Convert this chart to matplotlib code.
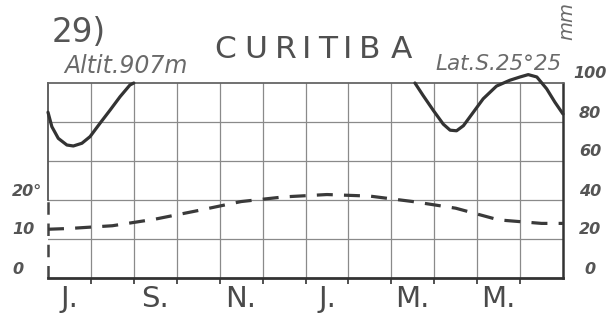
import numpy as np
import matplotlib
matplotlib.use("Agg")
import matplotlib.pyplot as plt
import matplotlib.transforms as mtransforms

# Curitiba climate diagram (year from July to June)
month_labels = ['J.', 'S.', 'N.', 'J.', 'M.', 'M.']
label_pos = [0.5, 2.5, 4.5, 6.5, 8.5, 10.5]

# temperature (deg C): left edge, month centres Jul..Jun, right edge
temp_x = [0, 0.5, 1.5, 2.5, 3.5, 4.5, 5.5, 6.5, 7.5, 8.5, 9.5, 10.5, 11.5, 12]
temp_c = [12.5, 12.7, 13.4, 15.1, 17.3, 19.6, 20.8, 21.4, 21.0, 19.6, 17.9, 14.9, 14.0, 14.0]

# precipitation (mm), only the parts that stay on the sheet
rain1_x = [0.0, 0.09, 0.24, 0.44, 0.59, 0.79, 0.98, 1.21, 1.45, 1.68, 1.91, 2.0]
rain1_mm = [85, 77.6, 71.6, 68.2, 67.7, 69.1, 72.5, 79.3, 86.2, 93, 99, 100]
rain2_x = [8.55, 8.74, 8.98, 9.21, 9.37, 9.52, 9.68, 9.91, 10.14, 10.45, 10.76,
           11.0, 11.19, 11.39, 11.62, 11.81, 12.0]
rain2_mm = [100, 93.6, 85.9, 78.9, 75.8, 75.5, 78.1, 85, 91.9, 98.4, 101.4,
            103.1, 104.3, 103.1, 97, 90.2, 84.1]

mm_ticks = [0, 20, 40, 60, 80, 100]
temp_ticks = [0, 10, 20]
temp_tick_labels = ['0', '10', '20°']

W, H = 611, 320
fig = plt.figure(figsize=(W / 100, H / 100), dpi=100)
ax = fig.add_axes([48 / W, 42 / H, 515 / W, 195 / H])
ax.set_xlim(0, 12)
ax.set_ylim(0, 100)

def px(x, y):
    return x / W, 1 - y / H

# grid
for v in range(1, 12):
    ax.axvline(v, color='#8a8a8a', lw=0.9, zorder=1)
for h in [20, 40, 60, 80]:
    ax.axhline(h, color='#8a8a8a', lw=0.9, zorder=1)

# frame
ax.spines['top'].set_color('#666666')
ax.spines['top'].set_linewidth(1.3)
ax.spines['right'].set_color('#333333')
ax.spines['right'].set_linewidth(1.8)
ax.spines['bottom'].set_color('#333333')
ax.spines['bottom'].set_linewidth(2.0)
ax.spines['left'].set_visible(False)
ax.plot([0, 0], [40, 100], color='#555555', lw=1.3, clip_on=False, zorder=2)
ax.plot([0, 0], [0, 40], color='#444444', lw=1.8, ls=(0, (5, 3.5)),
        clip_on=False, zorder=2)

# temperature (20 deg = 40 mm)
ax.plot(temp_x, np.array(temp_c) * 2, color='#3a3a3a', lw=2.3,
        ls=(0, (5, 3.5)), zorder=3, clip_on=False)

# precipitation
ax.plot(rain1_x, rain1_mm, color='#333333', lw=2.3, zorder=3, clip_on=False,
        solid_capstyle='round')
ax.plot(rain2_x, rain2_mm, color='#333333', lw=2.3, zorder=3, clip_on=False,
        solid_capstyle='round')

# x axis: tick marks at month borders, labels at month centres
ax.set_xticks(range(1, 12))
ax.set_xticklabels([])
ax.tick_params(axis='x', which='major', direction='out', length=4,
               width=1.2, color='#333333')
ax.set_xticks(label_pos, minor=True)
ax.set_xticklabels(month_labels, minor=True, fontsize=21, color='#4a4a4a')
ax.tick_params(axis='x', which='minor', length=0, pad=5)
ax.set_yticks([])

# mm scale on the right, deg scale on the left
tr = mtransforms.blended_transform_factory(ax.transAxes, ax.transData)
tr_up = mtransforms.offset_copy(tr, fig=fig, y=9, units='dots')
for v in mm_ticks:
    ax.text(542 / 515, v, str(v), transform=tr_up, ha='center', va='center',
            fontsize=11.5, style='italic', fontweight='bold', color='#555555')
for t, lab in zip(temp_ticks, temp_tick_labels):
    ax.text(-36 / 515, t * 2, lab, transform=tr_up, ha='left', va='center',
            fontsize=11.5, style='italic', fontweight='bold', color='#555555')

# headings
fig.text(*px(52, 42), '29)', fontsize=23.5, color='#555555',
         ha='left', va='baseline')
for ch, cx in zip('CURITIBA', [225, 256, 286, 307, 328, 348, 370, 401]):
    fig.text(*px(cx, 58), ch, fontsize=22.5, color='#505050',
             ha='center', va='baseline')
fig.text(*px(64, 73), 'Altit.907m', fontsize=17, style='italic',
         color='#6a6a6a', ha='left', va='baseline')
fig.text(*px(435, 70), 'Lat.S.25°25', fontsize=15.5, style='italic',
         color='#6a6a6a', ha='left', va='baseline')
fig.text(*px(567, 21), 'mm', fontsize=14, style='italic', color='#6a6a6a',
         rotation=90, ha='center', va='center')

fig.savefig('out.png', dpi=100)
